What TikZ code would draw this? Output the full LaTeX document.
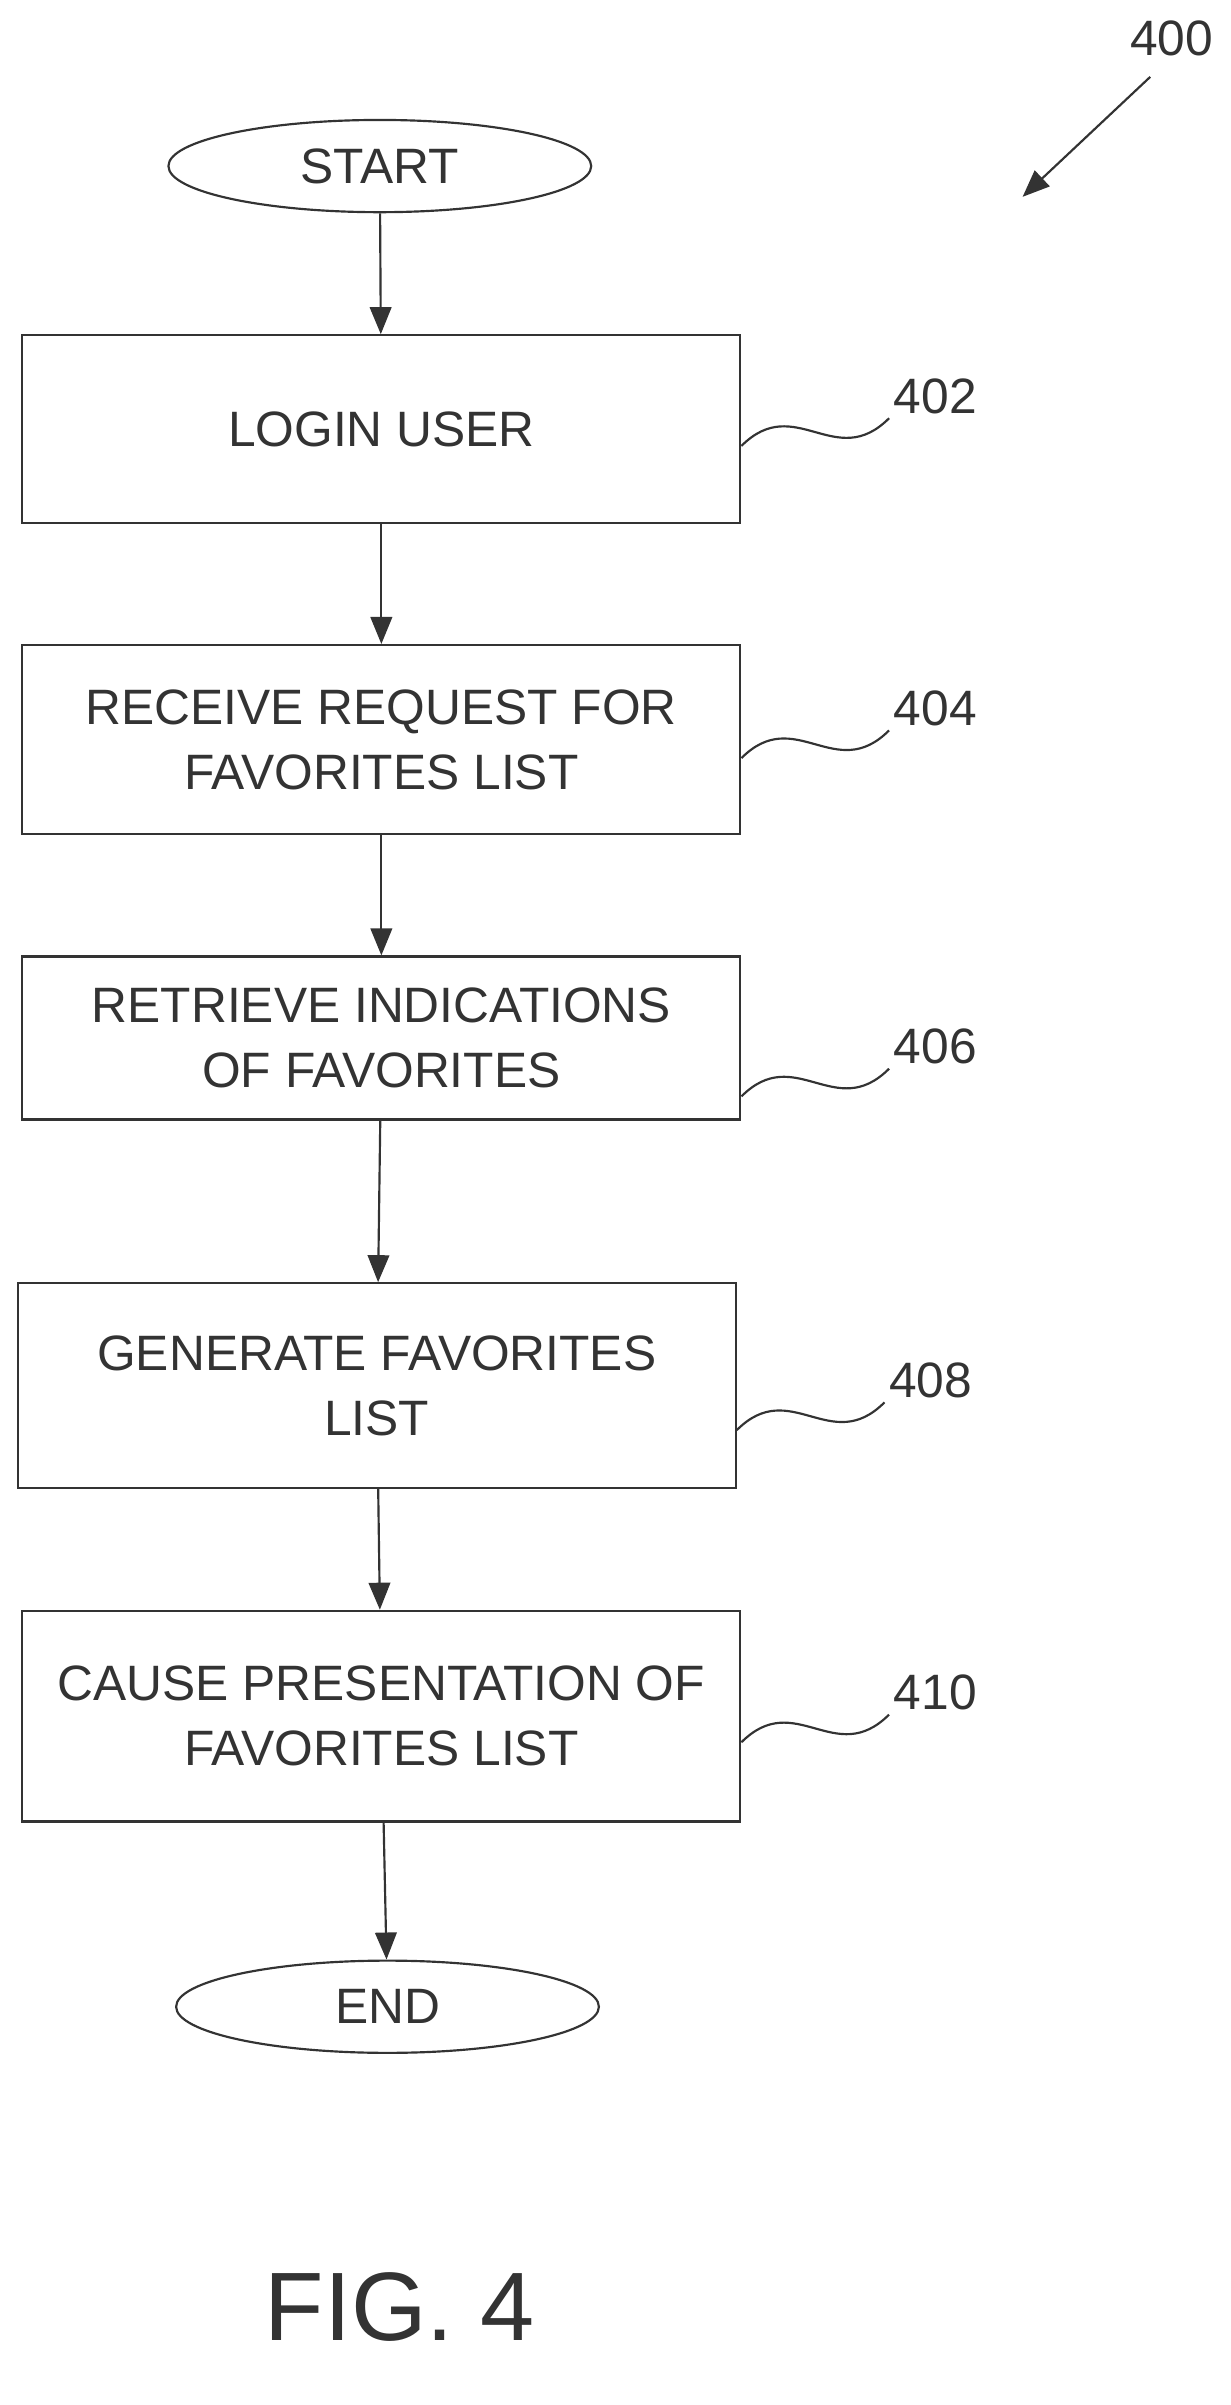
\documentclass[tikz,border=0pt]{standalone}
\usepackage{fontspec}
\setmainfont{Liberation Sans}
\usetikzlibrary{arrows.meta,shapes.geometric}
\tikzset{
  box/.style={draw, minimum width=9.34cm, align=center, inner sep=2pt},
  term/.style={draw, ellipse, minimum width=5.5cm, minimum height=1.2cm},
  flow/.style={-{Triangle[length=10pt,width=8pt]}},
  refnum/.style={anchor=south west}
}
\begin{document}
\begin{tikzpicture}[x=0.02cm,y=-0.02cm,line width=0.8pt,color=black!80,
  every node/.style={font=\fontsize{18.4}{24}\selectfont}]
  \useasboundingbox (0,0) rectangle (800,1564);
  \node[term] (start) at (247,108) {START};
  \node[box, minimum height=2.44cm] (login) at (248,279) {LOGIN USER};
  \node[box, minimum height=2.46cm] (recv) at (248,481) {RECEIVE REQUEST FOR\\FAVORITES LIST};
  \node[box, minimum height=2.12cm] (retr) at (248,675) {RETRIEVE INDICATIONS\\OF FAVORITES};
  \node[box, minimum height=2.66cm] (gen) at (245,901) {GENERATE FAVORITES\\LIST};
  \node[box, minimum height=2.74cm] (cause) at (248,1116) {CAUSE PRESENTATION OF\\FAVORITES LIST};
  \node[term] (end) at (252,1305) {END};
  \node[font=\fontsize{36}{40}\selectfont] (fig) at (260,1500) {FIG. 4};

  \draw[flow] (start) -- (login);
  \draw[flow] (login) -- (recv);
  \draw[flow] (recv) -- (retr);
  \draw[flow] (retr) -- (gen);
  \draw[flow] (gen) -- (cause);
  \draw[flow] (cause) -- (end);

  % reference numerals
  \node (n400) at (762,25) {400};
  \coordinate (t400) at (665,128);
  \draw[flow] (748,50) -- (t400);
  \foreach \src/\num/\y in {login/402/290, recv/404/493, retr/406/713, gen/408/930, cause/410/1133} {
    \draw (\src.east |- 0,\y) .. controls +(35,-35) and +(-35,35) .. +(96,-18) coordinate (e\num);
    \node[refnum] (r\num) at ([xshift=-2pt,yshift=-2pt]e\num) {\num};
  }
\end{tikzpicture}
\end{document}
